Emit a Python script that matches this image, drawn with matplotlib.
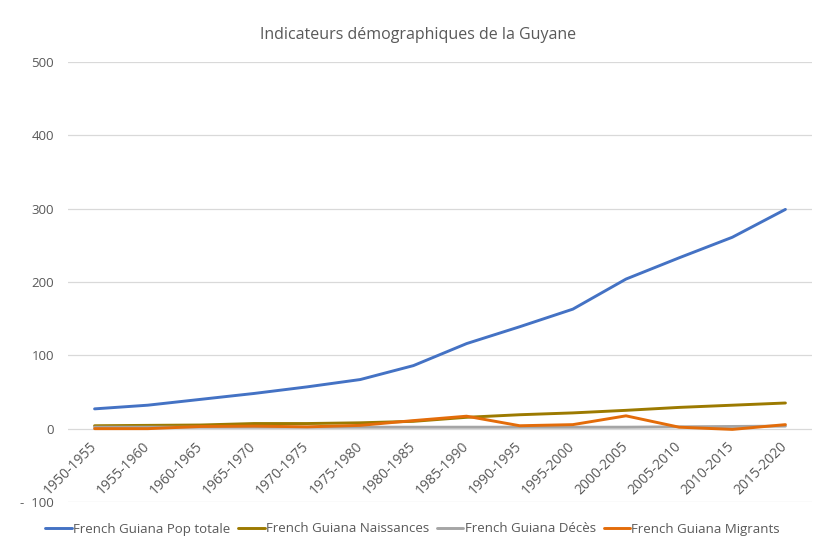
import matplotlib
matplotlib.use("Agg")
import matplotlib.pyplot as plt
from matplotlib.ticker import FuncFormatter

# data (thousands)
periods = ["1950-1955", "1955-1960", "1960-1965", "1965-1970", "1970-1975",
           "1975-1980", "1980-1985", "1985-1990", "1990-1995", "1995-2000",
           "2000-2005", "2005-2010", "2010-2015", "2015-2020"]
pop_totale = [27, 32, 40, 48, 57, 67, 86, 116, 139, 163, 204, 233, 261, 299]
naissances = [4, 4.5, 5, 7, 7, 8, 10, 15.5, 19, 21.5, 25, 29, 32, 35]
deces = [2, 2, 2, 2, 2, 2, 2, 2, 2, 2, 2, 2.5, 3, 3.5]
migrants = [0, 0, 3, 3.5, 2.5, 4.5, 11, 17, 4, 5.5, 17.5, 2, -1, 5.5]

series = [
    ("French Guiana Pop totale", pop_totale, "#4472C4"),
    ("French Guiana Naissances", naissances, "#9C7A00"),
    ("French Guiana Décès", deces, "#A5A5A5"),
    ("French Guiana Migrants", migrants, "#E36C0A"),
]

text_color = "#595959"
plt.rcParams["font.family"] = ["Open Sans", "DejaVu Sans"]

fig = plt.figure(figsize=(8.14, 5.42), dpi=100)
ax = fig.add_axes([68 / 814, 1 - 502 / 542, (812 - 68) / 814, (502 - 62) / 542])

x = list(range(len(periods)))
for name, values, color in series:
    ax.plot(x, values, color=color, lw=2.1, label=name, solid_capstyle="round")

ax.set_xlim(-0.5, len(periods) - 0.5)
ax.set_ylim(-100, 500)
ax.set_yticks(range(-100, 501, 100))


def fmt(v, pos):
    if v < 0:
        return "-  %d" % abs(v)
    return "%d" % v


ax.yaxis.set_major_formatter(FuncFormatter(fmt))
ax.grid(axis="y", color="#D9D9D9", lw=0.9)
ax.set_axisbelow(True)
for s in ax.spines.values():
    s.set_visible(False)
# category labels hang from the zero line, like in Excel
ax.spines["bottom"].set_position(("data", 0))

ax.set_xticks(x)
ax.set_xticklabels(periods, rotation=45, ha="right", va="center",
                   rotation_mode="anchor")
ax.tick_params(axis="both", length=0, colors=text_color, labelsize=9.5)
ax.tick_params(axis="x", pad=11, labelsize=10)
ax.tick_params(axis="y", pad=10)

fig.text(0.513, 1 - 35 / 542, "Indicateurs démographiques de la Guyane",
         ha="center", va="center", fontsize=11.5, color=text_color)

fig.legend(loc="center", bbox_to_anchor=(0.507, 1 - 529 / 542), ncol=4,
           frameon=False, fontsize=9.5, labelcolor=text_color,
           handlelength=2.0, handletextpad=0.1, columnspacing=0.6)

fig.savefig("out.png", dpi=100)
